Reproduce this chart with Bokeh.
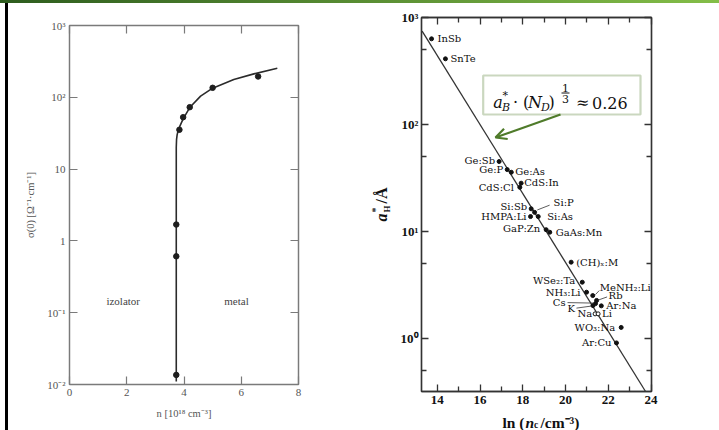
import math
from bokeh.plotting import figure
from bokeh.models import (Range1d, FixedTicker, LinearAxis, LogAxis, Label,
                          BoxAnnotation, Arrow, OpenHead, ColumnDataSource)
from bokeh.embed import file_html
from bokeh.resources import INLINE
from bokeh.core.properties import value

# ---------------- data: left panel (conductivity vs concentration) ----------------
left_pts_n = [3.73, 3.73, 3.73, 3.84, 3.97, 4.20, 5.00, 6.59]
left_pts_sigma = [0.0136, 0.61, 1.69, 35.3, 52.8, 72.8, 135.6, 195.0]
left_curve_n = [3.73, 3.73, 3.74, 3.76, 3.80, 3.86, 3.97, 4.20, 4.58, 5.00, 5.74, 6.44, 7.26]
left_curve_sigma = [0.011, 20.0, 26.0, 30.0, 35.0, 40.0, 50.0, 72.0, 104.0, 134.0, 177.0, 212.0, 254.0]
left_x_ticks = [0, 2, 4, 6, 8]
left_y_ticks = [0.01, 0.1, 1, 10, 100, 1000]
left_y_tick_labels = ["10⁻²", "10⁻¹", "1", "10", "10²", "10³"]
left_region_labels = ["izolator", "metal"]

# ---------------- data: right panel (Mott criterion) ----------------
materials = ["InSb", "SnTe", "Ge:Sb", "Ge:P", "Ge:As", "CdS:In", "CdS:Cl", "Si:Sb",
             "Si:P", "HMPA:Li", "Si:As", "GaP:Zn", "GaAs:Mn", "(CH)ₓ:M", "WSe₂:Ta",
             "NH₃:Li", "MeNH₂:Li", "Rb", "Cs", "K", "Ar:Na", "WO₃:Na", "Ar:Cu"]
ln_nc = [13.73, 14.38, 16.89, 17.27, 17.46, 17.92, 17.86, 18.39,
         18.55, 18.36, 18.72, 19.09, 19.26, 20.26, 20.78,
         20.98, 21.27, 21.45, 21.40, 21.28, 21.67, 22.60, 22.38]
a_h = [632, 411, 45.1, 37.9, 35.8, 28.3, 25.9, 16.3,
       15.1, 13.8, 13.8, 10.4, 9.85, 5.17, 3.36,
       2.71, 2.52, 2.27, 2.12, 2.03, 2.02, 1.27, 0.91]
open_materials = ["Na", "Li"]
open_ln_nc = [21.38, 21.52]
open_a_h = [1.70, 1.70]
fit_ln_nc = [13.29, 23.74]
fit_a_h = [745.0, 0.32]
right_x_ticks = [14, 16, 18, 20, 22, 24]
right_x_minor = [15, 17, 19, 21, 23]
right_y_ticks = [1, 10, 100, 1000]
right_y_minor = [0.5, 5, 50, 500]
right_y_tick_labels = ["10⁰", "10¹", "10²", "10³"]

# ---------------- styles ----------------
SERIF = "Liberation Serif"
SERIF2 = "DejaVu Serif"
GREEN = "#4f7b2a"
FRAME_L = "#7a7a7a"
TEXT_L = "#555555"
INK = "#111111"
BASE_FIX = 0.23  # em: lifts "alphabetic" labels so the glyph baseline sits on the anchor

# label offsets (px) and alignment for each material label
lab_dx = [6, 5, -4, -4, 4, 3, -6, -4, 19, -4, 9, -6, 6, 5, -7, -6, 7, 12, -30, -18, 5, -6, -5]
lab_dy = [0, 0, -1, 0, -1, -1, 0, -2, -10, 0, 0, -1, 0, 0, -2, 0, -8, -5, -1, 3, 0, 0, 0]
lab_al = ["left", "left", "right", "right", "left", "left", "right", "right", "left", "right",
          "left", "right", "left", "left", "right", "right", "left", "left", "right", "right",
          "left", "right", "right"]
open_dx = [-3, 4]
open_al = ["right", "left"]
leaders = {"Si:P": ((2.7, -2.4), (15, -7.2)), "MeNH₂:Li": ((2.7, -1), (6.5, -5)),
           "Rb": ((2, -0.5), (10.5, -3.5)), "Cs": ((-28, -1), (-2, -0.5)),
           "K": ((-16.5, 2.5), (-2, 0.5))}

PAGE_Y = 3

# ================= LEFT PANEL =================
L_W, L_H = 351, 427
L_BL, L_BR, L_BT, L_BB = 60, 62, 22, 46
L_FW, L_FH = L_W - L_BL - L_BR, L_H - L_BT - L_BB
L_X0, L_X1, L_Y0, L_Y1 = 0, 8, 0.01, 1000
L_PAGE_X = 9


def lpos(px, py):
    fx = px - L_PAGE_X - L_BL
    fy = py - PAGE_Y - L_BT
    lo, hi = math.log10(L_Y0), math.log10(L_Y1)
    return L_X0 + fx / L_FW * (L_X1 - L_X0), 10 ** (hi - fy / L_FH * (hi - lo))


def style_ax(ax, color, width, tick_in, minor_in, font, size, lcolor, style="normal", standoff=4):
    ax.axis_line_color = color
    ax.axis_line_width = width
    ax.major_tick_line_color = color
    ax.major_tick_line_width = width
    ax.minor_tick_line_color = color
    ax.minor_tick_line_width = width
    ax.major_tick_in = tick_in
    ax.major_tick_out = 0
    ax.minor_tick_in = minor_in
    ax.minor_tick_out = 0
    ax.major_label_text_font = font
    ax.major_label_text_color = lcolor
    ax.major_label_text_font_style = style
    ax.major_label_text_font_size = size
    ax.major_label_standoff = standoff


def mirror_axis(cls, ticker, ticks, color, width, tick_in, minor_in):
    ax = cls(ticker=ticker)
    style_ax(ax, color, width, tick_in, minor_in, SERIF, "6px", None, standoff=0)
    ax.major_label_overrides = {t: "" for t in ticks}
    return ax


p1 = figure(width=L_W, height=L_H, x_range=Range1d(L_X0, L_X1), y_range=Range1d(L_Y0, L_Y1),
            y_axis_type="log", output_backend="svg", toolbar_location=None, title=None,
            min_border_left=L_BL, min_border_right=L_BR, min_border_top=L_BT, min_border_bottom=L_BB)
p1.grid.visible = False
p1.outline_line_color = FRAME_L
p1.outline_line_width = 1.3

xa = p1.xaxis[0]
xa.ticker = FixedTicker(ticks=left_x_ticks)
style_ax(xa, FRAME_L, 1.2, 8, 0, SERIF, "11px", TEXT_L, standoff=4)
xa.axis_label = "n [10¹⁸ cm⁻³]"
xa.axis_label_text_font = SERIF
xa.axis_label_text_font_size = "10.5px"
xa.axis_label_text_font_style = "normal"
xa.axis_label_text_color = TEXT_L
xa.axis_label_standoff = 9

ya = p1.yaxis[0]
ya.ticker = FixedTicker(ticks=left_y_ticks)
ya.major_label_overrides = dict(zip(left_y_ticks, left_y_tick_labels))
style_ax(ya, FRAME_L, 1.2, 8, 0, SERIF, "11px", TEXT_L, standoff=4)
ya.axis_label = "σ(0) [Ω⁻¹·cm⁻¹]"
ya.axis_label_text_font = SERIF
ya.axis_label_text_font_size = "10.5px"
ya.axis_label_text_font_style = "normal"
ya.axis_label_text_color = TEXT_L
ya.axis_label_standoff = 8

p1.add_layout(mirror_axis(LogAxis, FixedTicker(ticks=left_y_ticks), left_y_ticks, FRAME_L, 1.2, 8, 0), "right")
p1.add_layout(mirror_axis(LinearAxis, FixedTicker(ticks=left_x_ticks), left_x_ticks, FRAME_L, 1.2, 8, 0), "above")

p1.line(left_curve_n, left_curve_sigma, line_color="#2b2b2b", line_width=1.6)
p1.scatter(left_pts_n, left_pts_sigma, size=5.5, color="#1e1e1e")

for txt, (px, py) in zip(left_region_labels, [(122.7, 300.7), (236, 300.7)]):
    x, y = lpos(px, py)
    p1.add_layout(Label(x=x, y=y, text=txt, text_font=SERIF, text_font_size="11px",
                        text_color="#444444", text_align="center", text_baseline="middle"))

# ================= RIGHT PANEL =================
R_W, R_H = 359, 427
R_BL, R_BR, R_BT, R_BB = 61, 68, 14, 39
R_FW, R_FH = R_W - R_BL - R_BR, R_H - R_BT - R_BB
R_X0, R_X1 = 13.26, 24.018
R_Y0, R_Y1 = 10 ** -0.495, 1000.0
R_PAGE_X = 360
R_PXX = R_FW / (R_X1 - R_X0)
R_PXD = R_FH / (math.log10(R_Y1) - math.log10(R_Y0))


def rpos(px, py):
    fx = px - R_PAGE_X - R_BL
    fy = py - PAGE_Y - R_BT
    return R_X0 + fx / R_PXX, 10 ** (math.log10(R_Y1) - fy / R_PXD)


def roff(x, y, dpx, dpy):
    return x + dpx / R_PXX, y * 10 ** (-dpy / R_PXD)


p2 = figure(width=R_W, height=R_H, x_range=Range1d(R_X0, R_X1), y_range=Range1d(R_Y0, R_Y1),
            y_axis_type="log", output_backend="svg", toolbar_location=None, title=None,
            min_border_left=R_BL, min_border_right=R_BR, min_border_top=R_BT, min_border_bottom=R_BB)
p2.grid.visible = False
p2.outline_line_color = "#333333"
p2.outline_line_width = 1.4

xb = p2.xaxis[0]
xb.ticker = FixedTicker(ticks=right_x_ticks, minor_ticks=right_x_minor)
style_ax(xb, "#333333", 1.3, 7, 5, SERIF, "13px", INK, style="bold", standoff=4)
yb = p2.yaxis[0]
yb.ticker = FixedTicker(ticks=right_y_ticks, minor_ticks=right_y_minor)
yb.major_label_overrides = dict(zip(right_y_ticks, right_y_tick_labels))
style_ax(yb, "#333333", 1.3, 7, 5, SERIF, "13px", INK, style="bold", standoff=3)
p2.add_layout(mirror_axis(LogAxis, FixedTicker(ticks=right_y_ticks, minor_ticks=right_y_minor),
                          right_y_ticks, "#333333", 1.3, 7, 5), "right")
p2.add_layout(mirror_axis(LinearAxis, FixedTicker(ticks=right_x_ticks, minor_ticks=right_x_minor),
                          right_x_ticks, "#333333", 1.3, 7, 5), "above")

p2.line(fit_ln_nc, fit_a_h, line_color="#333333", line_width=1.3)
p2.scatter(ln_nc, a_h, size=4, color="#111111")
p2.scatter(open_ln_nc, open_a_h, size=4, fill_color="white", line_color="#111111", line_width=1)

# leader lines
lx0, ly0, lx1, ly1 = [], [], [], []
for name, x, y in zip(materials, ln_nc, a_h):
    if name in leaders:
        (a0, b0), (a1, b1) = leaders[name]
        u0, v0 = roff(x, y, a0, b0)
        u1, v1 = roff(x, y, a1, b1)
        lx0.append(u0); ly0.append(v0); lx1.append(u1); ly1.append(v1)
p2.segment(lx0, ly0, lx1, ly1, line_color="#333333", line_width=0.8)

# material labels
all_names = materials + open_materials
all_x = ln_nc + open_ln_nc
all_y = a_h + open_a_h
all_dx = lab_dx + open_dx
all_dy = lab_dy + [0, 0]
all_al = lab_al + open_al
for align in ("left", "right"):
    idx = [i for i, a in enumerate(all_al) if a == align]
    src = ColumnDataSource(dict(x=[all_x[i] for i in idx], y=[all_y[i] for i in idx],
                                t=[all_names[i] for i in idx],
                                dx=[all_dx[i] for i in idx], dy=[all_dy[i] for i in idx]))
    p2.text(x="x", y="y", text="t", x_offset="dx", y_offset="dy", source=src,
            text_align=align, text_baseline="middle", text_font=value(SERIF2),
            text_font_size="10px", text_color="#0d0d0d")

# annotation box with formula
bl, bt = rpos(482.7, 75)
br, bb = rpos(640, 114)
p2.add_layout(BoxAnnotation(left=bl, right=br, top=bt, bottom=bb, fill_color="white",
                            fill_alpha=1.0, line_color=GREEN, line_width=2.2))
ax0, ay0 = rpos(560, 114)
ax1, ay1 = rpos(495, 137)
p2.add_layout(Arrow(x_start=ax0, y_start=ay0, x_end=ax1, y_end=ay1, line_color=GREEN, line_width=2.2,
                    end=OpenHead(size=11, line_color=GREEN, line_width=2.2)))

for txt, px, py, size, style, align in [("a", 492.7, 106, 16, "italic", "left"),
                                        ("*", 502, 97.5, 11, "normal", "left"),
                                        ("B", 501.5, 110, 11, "italic", "left"),
                                        ("·", 512.5, 106, 16, "normal", "left"),
                                        ("(", 522.5, 106, 16, "normal", "left"),
                                        ("N", 527.5, 106, 16, "italic", "left"),
                                        ("D", 540.5, 110, 11, "italic", "left"),
                                        (")", 548, 106, 16, "normal", "left"),
                                        ("1", 565, 90, 11, "normal", "center"),
                                        ("3", 565, 101.5, 11, "normal", "center"),
                                        ("≈", 575.5, 106, 16, "normal", "left"),
                                        ("0.26", 591.5, 106, 16, "normal", "left")]:
    x, y = rpos(px, py - BASE_FIX * size)
    p2.add_layout(Label(x=x, y=y, text=txt, text_font=SERIF2, text_font_size=f"{size}px",
                        text_font_style=style, text_color="#111111", text_align=align,
                        text_baseline="alphabetic"))
fx0, fy0 = rpos(561, 92.5)
fx1, fy1 = rpos(569, 92.5)
p2.add_layout(Arrow(x_start=fx0, y_start=fy0, x_end=fx1, y_end=fy1, end=None,
                    line_color="#111111", line_width=1))

# ================= transparent text layer for the right panel's composite axis titles =================
ov = figure(width=719, height=430, x_range=Range1d(0, 719), y_range=Range1d(430, 0),
            output_backend="svg", toolbar_location=None, title=None, min_border=0,
            x_axis_location=None, y_axis_location=None)
ov.grid.visible = False
ov.outline_line_color = None
ov.background_fill_color = None
ov.border_fill_color = None

# rotated y-axis title: a*_H / Å
for txt, px, py, size, style in [("a", 385, 221, 16, "bold italic"),
                                 ("*", 377.5, 212, 10, "bold"),
                                 ("H", 388.5, 212, 9, "bold"),
                                 ("/Å", 385, 203, 16, "bold")]:
    ov.add_layout(Label(x=px - BASE_FIX * size, y=py, text=txt, angle=math.pi / 2, text_font=SERIF,
                        text_font_size=f"{size}px", text_font_style=style, text_color=INK,
                        text_align="left", text_baseline="alphabetic"))

# x-axis title: ln (n_c/cm^-3)
for txt, px, py, size, style, align in [("ln (", 524, 425.5, 15.5, "bold", "right"),
                                        ("n", 525, 425.5, 15.5, "bold italic", "left"),
                                        ("c", 533.5, 426.5, 9.5, "bold", "left"),
                                        ("/cm⁻³)", 540, 425.5, 15.5, "bold", "left")]:
    ov.add_layout(Label(x=px, y=py - BASE_FIX * size, text=txt, text_font=SERIF,
                        text_font_size=f"{size}px", text_font_style=style, text_color=INK,
                        text_align=align, text_baseline="alphabetic"))

# ================= page: green top band, left black rule, two independent panels =================
TEMPLATE = """
{% block contents %}
<div style="position:relative;width:719px;height:430px;overflow:hidden;">
<div style="width:719px;height:3px;background:linear-gradient(to right,#2d5c1e,#84be48);"></div>
<div style="display:flex;flex-direction:row;align-items:flex-start;width:719px;height:427px;">
<div style="width:5px;height:427px;flex:none;"></div>
<div style="width:3px;height:427px;background:#000000;flex:none;"></div>
<div style="width:1px;height:427px;flex:none;"></div>
{{ embed(roots[0]) }}
{{ embed(roots[1]) }}
</div>
<div style="position:absolute;left:0px;top:0px;width:719px;height:430px;pointer-events:none;">
{{ embed(roots[2]) }}
</div>
</div>
{% endblock %}
"""

open("out.html", "w").write(file_html([p1, p2, ov], INLINE, template=TEMPLATE))
